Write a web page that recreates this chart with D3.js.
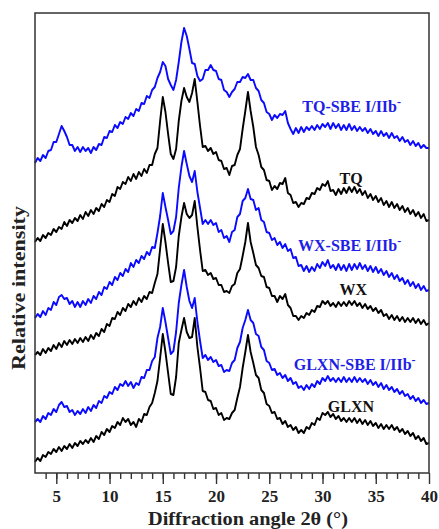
<!DOCTYPE html>
<meta charset="utf-8">
<style>
body { margin: 0; background: #fff; }
.trace { fill: none; stroke-width: 1.9px; stroke-linejoin: round; }
.axis path, .axis line { stroke: #333; stroke-width: 1.4; }
.axis text { font: bold 17px "Liberation Serif", "Times New Roman", serif; fill: #222; }
.lbl { font: bold 16px "Liberation Serif", "Times New Roman", serif; }
</style>
<body>
<div id="plotHere"></div>
<script src="https://cdn.jsdelivr.net/npm/d3@7"></script>
<script>
// ---------------- data (0.25 deg steps from 3 to 40) ----------------
const angles = d3.range(3, 40.001, 0.25);

const tqSBE = [
 310,315,312,318, 315,322,323,331, 331,339,347,342, 336,328,328,322,
 326,321,326,322, 325,320,326,323, 329,328,336,335, 342,341,348,345,
 351,349,356,354, 360,357,364,362, 370,369,377,375, 383,386,395,401,
 411,407,394,388, 383,393,411,431, 445,437,424,410, 409,397,392,394,
 403,403,408,403, 402,394,393,383, 381,376,381,384, 391,391,396,395,
 399,393,393,385, 382,373,370,361, 359,353,358,355, 359,358,362,350,
 344,339,345,340, 346,341,346,343, 347,343,348,344, 349,346,350,344,
 350,345,349,343, 348,343,349,343, 347,342,346,342, 345,340,344,339,
 342,337,342,337, 340,335,340,335, 337,332,336,331, 333,328,332,327,
 330,325,328,325, 325];

const tq = [
 231,235,232,238, 235,240,238,244, 241,246,244,251, 247,253,250,255,
 252,258,254,261, 257,263,259,265, 262,269,266,273, 271,279,277,286,
 284,291,289,296, 292,299,294,301, 297,304,300,308, 308,319,325,352,
 376,361,339,319, 314,324,352,372, 385,376,371,380, 394,371,347,326,
 327,322,325,319, 321,313,312,304, 305,298,307,308, 318,324,344,362,
 381,362,346,326, 318,306,303,293, 292,283,287,284, 290,289,295,280,
 278,270,271,266, 270,269,275,274, 280,279,285,283, 289,287,292,282,
 283,278,284,279, 285,280,286,281, 286,280,284,278, 282,275,279,273,
 277,271,275,268, 272,266,271,265, 269,263,267,261, 265,259,263,257,
 261,255,259,252, 253];

const wxSBE = [
 155,159,156,162, 158,165,163,171, 168,176,178,174, 175,169,172,166,
 171,166,172,168, 174,170,177,174, 181,178,186,184, 191,188,196,193,
 200,197,204,201, 210,206,213,210, 217,214,221,218, 226,225,240,257,
 280,266,253,239, 242,256,285,306, 322,309,297,291, 302,281,265,249,
 253,249,253,248, 250,241,243,235, 237,231,241,243, 256,259,272,275,
 284,274,273,263, 265,253,251,241, 240,233,235,228, 231,225,229,222,
 224,215,216,207, 208,202,207,201, 206,202,209,205, 211,207,213,205,
 208,203,209,203, 208,202,209,203, 209,204,210,204, 208,202,207,201,
 206,200,204,198, 202,196,200,194, 198,192,195,189, 193,187,191,185,
 189,183,187,182, 183];

const wx = [
 118,121,118,124, 120,125,122,128, 124,130,126,132, 128,133,129,134,
 130,135,131,136, 132,138,134,140, 137,144,141,149, 147,155,154,161,
 158,165,162,169, 166,172,168,175, 171,177,174,181, 180,190,199,224,
 249,231,210,191, 192,206,237,256, 270,259,255,258, 272,246,223,202,
 203,198,200,194, 195,188,188,181, 182,180,187,189, 200,204,217,231,
 250,231,220,208, 205,197,196,186, 185,177,177,171, 177,174,179,168,
 165,157,157,153, 157,155,160,158, 163,161,167,166, 172,169,172,167,
 170,166,171,167, 171,167,172,168, 172,167,170,165, 169,164,167,162,
 165,160,163,157, 159,154,158,153, 157,152,156,151, 155,151,155,150,
 154,149,153,148, 150];

const glxnSBE = [
 51,54,51,57, 54,60,58,64, 61,68,71,66, 67,61,63,58,
 62,59,64,60, 66,62,68,65, 72,70,77,75, 81,79,86,83,
 89,87,92,87, 91,85,90,88, 96,95,103,103, 112,116,135,146,
 165,151,135,119, 122,141,170,188, 203,186,172,165, 175,151,132,115,
 118,113,116,111, 113,107,108,101, 103,102,110,113, 125,131,145,153,
 163,153,150,139, 137,126,123,112, 110,103,104,98, 100,95,98,92,
 95,89,91,85, 87,83,88,84, 89,86,92,89, 95,92,97,92,
 95,91,95,91, 96,91,95,91, 96,91,95,91, 94,89,93,88,
 91,86,90,84, 88,83,86,81, 84,79,82,77, 79,74,77,72,
 75,70,73,69, 70];

const glxn = [
 11,15,12,18, 16,21,19,24, 21,26,22,27, 24,29,25,30,
 27,32,29,33, 30,35,31,37, 34,41,38,44, 41,47,45,51,
 48,55,51,54, 48,51,46,54, 51,59,58,66, 70,80,92,115,
 139,121,100,79, 78,96,130,143, 155,141,135,136, 155,126,105,82,
 81,73,72,64, 65,58,60,53, 55,54,60,63, 75,86,105,121,
 138,121,110,98, 95,83,80,69, 67,60,61,54, 55,49,52,46,
 48,43,46,40, 43,40,46,44, 50,48,55,53, 60,58,61,56,
 59,54,57,52, 55,51,55,51, 55,50,54,49, 53,48,52,47,
 50,45,49,44, 48,44,48,43, 46,41,44,39, 42,37,40,34,
 37,32,35,29, 30];

const seriesNames  = ["TQ-SBE I/IIb", "TQ", "WX-SBE I/IIb", "WX", "GLXN-SBE I/IIb", "GLXN"];
const seriesValues = [tqSBE, tq, wxSBE, wx, glxnSBE, glxn];
const seriesColors = ["#0a0aff", "#000", "#0a0aff", "#000", "#0a0aff", "#000"];
const majorTicks = [5, 10, 15, 20, 25, 30, 35, 40];
const minorTicks = d3.range(4, 40, 1);

// label anchors: [angle, intensity, has superscript minus]
const labelAt = [[28.1, 361, true], [31.6, 289, false], [27.7, 222, true],
                 [31.6, 178, false], [27.3, 103, true], [30.5, 61, false]];

// ---------------- svg ----------------
const W = 439, H = 529;
const margin = {top: 13, right: 10, bottom: 56, left: 35};
const width = W - margin.left - margin.right,
      height = H - margin.top - margin.bottom;

const svg = d3.select("#plotHere").append("svg")
    .attr("width", W).attr("height", H)
  .append("g")
    .attr("transform", "translate(" + margin.left + "," + margin.top + ")");

const x = d3.scaleLinear().domain([3, 40]).range([0, width]);
const y = d3.scaleLinear().domain([0, 460]).range([height, 0]);

const line = d3.line()
    .x(function(d, i) { return x(angles[i]); })
    .y(function(d) { return y(d); });

seriesValues.forEach(function(vals, k) {
  svg.append("path")
      .datum(vals)
      .attr("class", "trace")
      .attr("stroke", seriesColors[k])
      .attr("d", line);
});

// frame
svg.append("rect")
    .attr("width", width).attr("height", height)
    .attr("fill", "none").attr("stroke", "#333").attr("stroke-width", 1.5);

// bottom axis: minor then major
svg.append("g")
    .attr("class", "axis")
    .attr("transform", "translate(0," + height + ")")
    .call(d3.axisBottom(x).tickValues(minorTicks).tickSize(6).tickSizeOuter(0).tickFormat(""))
    .select(".domain").remove();
svg.append("g")
    .attr("class", "axis")
    .attr("transform", "translate(0," + height + ")")
    .call(d3.axisBottom(x).tickValues(majorTicks).tickSize(11).tickSizeOuter(0).tickPadding(6))
    .select(".domain").remove();

// axis titles
svg.append("text")
    .attr("x", 213)
    .attr("y", height + 52)
    .attr("text-anchor", "middle")
    .attr("textLength", 200)
    .attr("lengthAdjust", "spacingAndGlyphs")
    .style("font", "bold 19px 'Liberation Serif', serif")
    .style("fill", "#222")
    .text("Diffraction angle 2\u03b8 (\u00b0)");

svg.append("text")
    .attr("transform", "rotate(-90)")
    .attr("x", -275)
    .attr("y", -10)
    .attr("text-anchor", "middle")
    .attr("textLength", 164)
    .attr("lengthAdjust", "spacingAndGlyphs")
    .style("font", "bold 19px 'Liberation Serif', serif")
    .style("fill", "#222")
    .text("Relative intensity");

// series labels
labelAt.forEach(function(p, k) {
  const t = svg.append("text")
      .attr("class", "lbl")
      .attr("x", x(p[0]))
      .attr("y", y(p[1]))
      .attr("fill", seriesColors[k] === "#000" ? "#111" : "#1e1ee6")
      .text(seriesNames[k]);
  if (p[2]) {
    t.append("tspan").attr("dy", -6).style("font-size", "12px").text("-");
  }
});
</script>
</body>
